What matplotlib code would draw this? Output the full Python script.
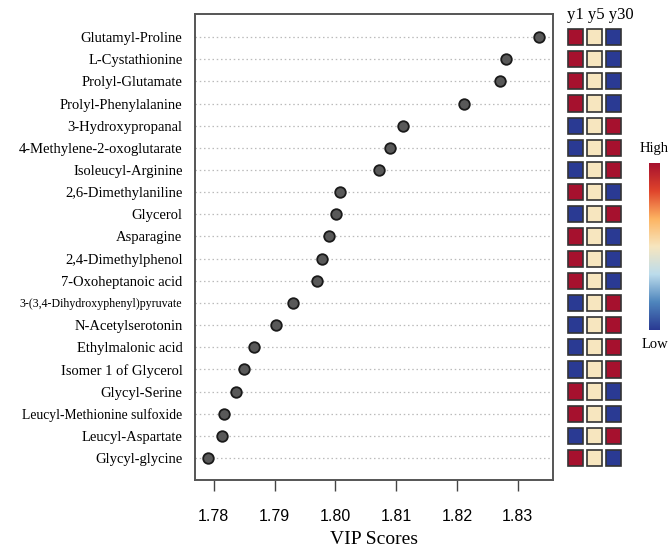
import matplotlib
matplotlib.use("Agg")
import matplotlib.pyplot as plt
import numpy as np
from matplotlib.patches import Rectangle
from matplotlib.colors import LinearSegmentedColormap

metabolites = [
    "Glutamyl-Proline", "L-Cystathionine", "Prolyl-Glutamate", "Prolyl-Phenylalanine",
    "3-Hydroxypropanal", "4-Methylene-2-oxoglutarate", "Isoleucyl-Arginine",
    "2,6-Dimethylaniline", "Glycerol", "Asparagine", "2,4-Dimethylphenol",
    "7-Oxoheptanoic acid", "3-(3,4-Dihydroxyphenyl)pyruvate", "N-Acetylserotonin",
    "Ethylmalonic acid", "Isomer 1 of Glycerol", "Glycyl-Serine",
    "Leucyl-Methionine sulfoxide", "Leucyl-Aspartate", "Glycyl-glycine",
]
vip_scores = [
    1.8335, 1.8280, 1.8271, 1.8211, 1.8111, 1.8090, 1.8071, 1.8007, 1.8001, 1.7990,
    1.7978, 1.7969, 1.7931, 1.7903, 1.7866, 1.7849, 1.7836, 1.7816, 1.7813, 1.7791,
]
groups = ["y1", "y5", "y30"]
# relative level per group (1 = high, 0 = mid, -1 = low)
levels = [
    [1, 0, -1], [1, 0, -1], [1, 0, -1], [1, 0, -1],
    [-1, 0, 1], [-1, 0, 1], [-1, 0, 1], [1, 0, -1],
    [-1, 0, 1], [1, 0, -1], [1, 0, -1], [1, 0, -1],
    [-1, 0, 1], [-1, 0, 1], [-1, 0, 1], [-1, 0, 1],
    [1, 0, -1], [1, 0, -1], [-1, 0, 1], [1, 0, -1],
]
x_ticks = [1.78, 1.79, 1.80, 1.81, 1.82, 1.83]

serif = ["Liberation Serif", "DejaVu Serif"]
sans = ["Liberation Sans", "DejaVu Sans"]

W, H = 670, 547
fig = plt.figure(figsize=(W / 100, H / 100), dpi=100)

def px_box(x0, y0, x1, y1):
    return [x0 / W, 1 - y1 / H, (x1 - x0) / W, (y1 - y0) / H]

n = len(metabolites)
ypos = np.arange(n)
ylim = (19 + 0.99, -1.04)

ax = fig.add_axes(px_box(195, 14, 553, 480))
for y in ypos:
    ax.axhline(y, color="#bbbbbb", lw=0.9, ls=(0, (1.2, 2.2)), zorder=1)
ax.scatter(vip_scores, ypos, s=58, color="#595959", edgecolor="#1a1a1a",
           linewidth=1.3, zorder=3)
ax.set_xlim(1.7769, 1.8358)
ax.set_ylim(*ylim)
ax.set_xticks(x_ticks)
ax.set_xticklabels([f"{t:.2f}" for t in x_ticks], family=sans, fontsize=11.5)
ax.set_yticks(ypos)
ax.set_yticklabels(metabolites, family=serif, fontsize=10.5)
for lbl in ax.get_yticklabels():
    if lbl.get_text() == "3-(3,4-Dihydroxyphenyl)pyruvate":
        lbl.set_fontsize(8.6)
    elif lbl.get_text() == "Leucyl-Methionine sulfoxide":
        lbl.set_fontsize(9.8)
ax.tick_params(axis="y", length=0, pad=9)
ax.tick_params(axis="x", length=8, width=1.0, color="#444444", pad=13)
for sp in ax.spines.values():
    sp.set_color("#555555")
    sp.set_linewidth(1.4)
ax.set_xlabel("VIP Scores", family=serif, fontsize=14, labelpad=5)

# heatmap
cmap = LinearSegmentedColormap.from_list(
    "hl", ["#2a3a93", "#4f86bd", "#bcdcec", "#f7e6bf", "#fdb462", "#e0452c", "#a6112e"])
hx = fig.add_axes(px_box(560, 14, 630, 480))
hx.set_xlim(-0.824, 2.899)
hx.set_ylim(*ylim)
hx.axis("off")
cw, ch = 0.8, 0.73
for i, row in enumerate(levels):
    for j, v in enumerate(row):
        col = {1: "#a6112e", 0: "#f7e6bf", -1: "#2a3a93"}[v]
        hx.add_patch(Rectangle((j - cw / 2, i - ch / 2), cw, ch, facecolor=col,
                               edgecolor="#333333", lw=1.2))
fig.text(567 / W, 1 - 15 / H, " ".join(groups), ha="left", va="center",
         family=serif, fontsize=12)

# colorbar
cb = fig.add_axes(px_box(649, 163, 660, 330))
grad = np.linspace(1, 0, 256).reshape(-1, 1)
cb.imshow(grad, aspect="auto", cmap=cmap, extent=[0, 1, 0, 1])
cb.axis("off")
fig.text(654.5 / W, 1 - 148 / H, "High", ha="center", va="center", family=serif, fontsize=10.5)
fig.text(654.5 / W, 1 - 345 / H, "Low", ha="center", va="center", family=serif, fontsize=10.5)

fig.savefig("out.png", dpi=100)
